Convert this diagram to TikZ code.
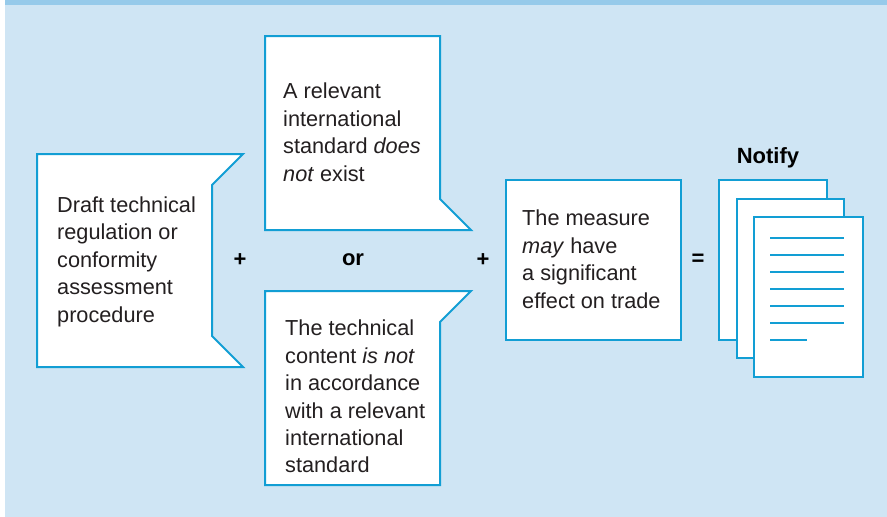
\documentclass[tikz,border=0pt]{standalone}
\usepackage{fontspec}
\setmainfont{Liberation Sans}
\usetikzlibrary{positioning}
\definecolor{Wto-blue}{RGB}{18,158,212}
\definecolor{Wto-bg}{RGB}{207,229,244}
\definecolor{Wto-band}{RGB}{150,202,234}
\definecolor{Wto-text}{RGB}{35,31,32}

\begin{document}
\begin{tikzpicture}[x=1pt,y=-1pt]
          \tikzset{ box/.style ={draw=Wto-blue, line width=2pt, fill=white, line join=miter} }
          \tikzset{ txt/.style ={anchor=north west, align=left, inner sep=0pt, text=Wto-text, font=\fontsize{21.7}{27.4}\selectfont} }
          \tikzset{ sym/.style ={inner sep=0pt, text=black, font=\fontsize{22}{24}\selectfont\bfseries} }
          \tikzset{ page/.style={draw=Wto-blue, line width=2pt, fill=white} }
          \tikzset{ rule/.style={draw=Wto-blue, line width=2pt} }

          % background
          \useasboundingbox (0,0) rectangle (887,517);
          \fill[white] (0,0) rectangle (887,517);
          \fill[Wto-bg] (5,0) rectangle (887,517);
          \fill[Wto-band] (5,0) rectangle (887,5);

          % notched boxes
          \draw[box] (37,154) -- (243,154) -- (212,185) -- (212,336) -- (243,367) -- (37,367) -- cycle;
          \draw[box] (265,36) -- (440,36) -- (440,199) -- (471,230) -- (265,230) -- cycle;
          \draw[box] (265,291) -- (471,291) -- (440,322) -- (440,485) -- (265,485) -- cycle;
          \draw[box] (506,180) rectangle (681,340);

          \node[txt] (draft)   at (57,196.5)  {Draft technical\\regulation or\\conformity\\assessment\\procedure};
          \node[txt] (nostd)   at (283,83)    {A relevant\\international\\standard \emph{does}\\\emph{not} exist};
          \node[txt] (notacc)  at (285,320)   {The technical\\content \emph{is not}\\in accordance\\with a relevant\\international\\standard};
          \node[txt] (measure) at (522,210)   {The measure\\\emph{may} have\\a significant\\effect on trade};

          \node[sym] (plus1) at (240,260) {+};
          \node[sym] (orlab) at (353,260) {or};
          \node[sym] (plus2) at (483,260) {+};
          \node[sym] (equal) at (698,260) {=};

          % stack of pages
          \node[sym, anchor=base] (notify) at (768,163) {Notify};
          \draw[page] (719,180) rectangle (827,340);
          \draw[page] (737,199) rectangle (844,358);
          \draw[page] (754,217) rectangle (863,377);
          \foreach \y in {238,255,272,289,306,323}
            \draw[rule] (770,\y) -- (844,\y);
          \draw[rule] (770,340) -- (807,340);
\end{tikzpicture}
\end{document}
